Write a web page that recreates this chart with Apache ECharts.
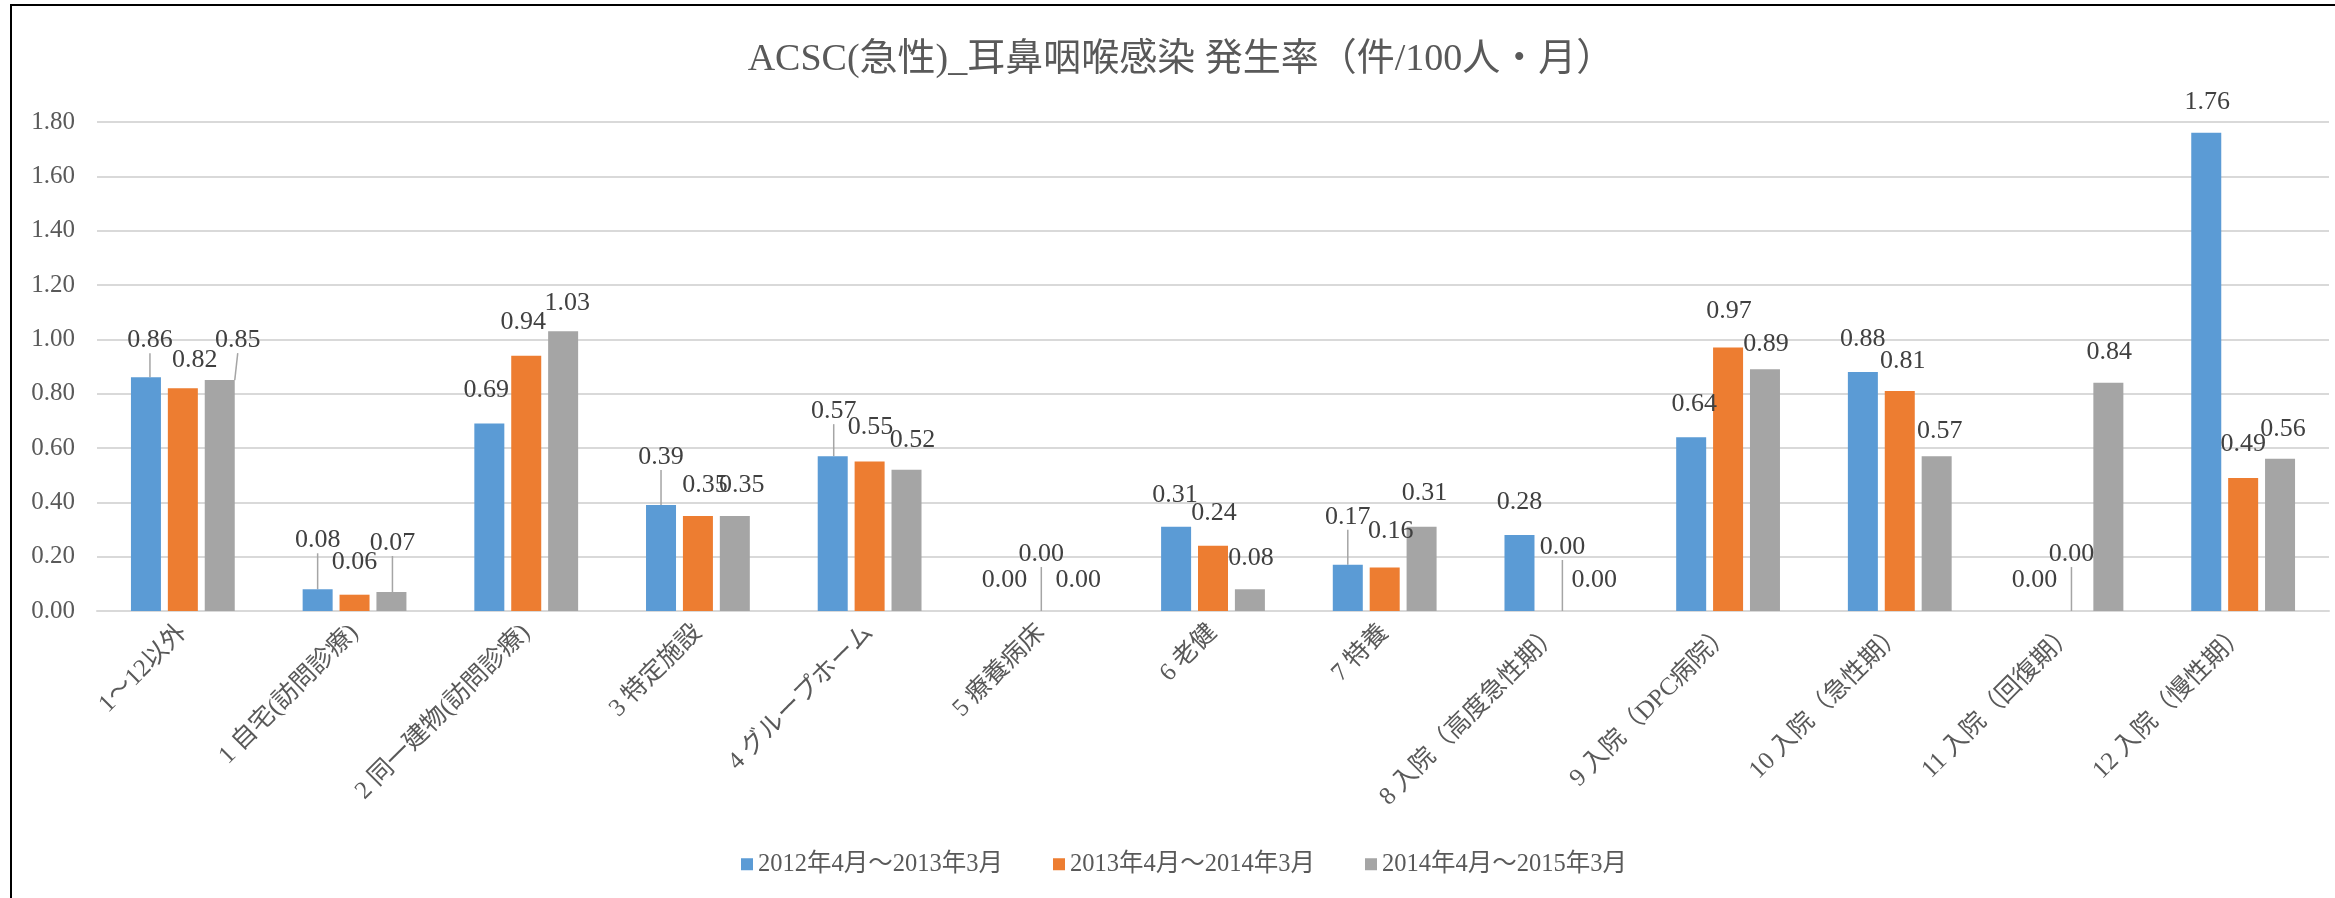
<!DOCTYPE html>
<html>
<head>
<meta charset="utf-8">
<script src="https://cdn.jsdelivr.net/npm/echarts@6/dist/echarts.min.js"></script>
<style>
html,body{margin:0;padding:0;background:#fff;}
#c{width:2335px;height:898px;}
</style>
</head>
<body>
<div id="c"></div>
<script>
const titleText = 'ACSC(急性)_耳鼻咽喉感染 発生率（件/100人・月）';
const categories = ['1～12以外','1 自宅(訪問診療)','2 同一建物(訪問診療)','3 特定施設','4 グループホーム','5 療養病床','6 老健','7 特養','8 入院（高度急性期）','9 入院（DPC病院）','10 入院（急性期）','11 入院（回復期）','12 入院（慢性期）'];
const seriesNames = ['2012年4月～2013年3月','2013年4月～2014年3月','2014年4月～2015年3月'];
const values2012 = [0.86,0.08,0.69,0.39,0.57,0.00,0.31,0.17,0.28,0.64,0.88,0.00,1.76];
const values2013 = [0.82,0.06,0.94,0.35,0.55,0.00,0.24,0.16,0.00,0.97,0.81,0.00,0.49];
const values2014 = [0.85,0.07,1.03,0.35,0.52,0.00,0.08,0.31,0.00,0.89,0.57,0.84,0.56];
const yTicks = [0,0.2,0.4,0.6,0.8,1.0,1.2,1.4,1.6,1.8];

// label placement nudges (px) imitating the spreadsheet's collision avoidance
const labelNudge = [
  [[4,-16],[0,-28],[-3,-12],[0,-27],[1,-24],[0,-10],[-1,-11],[0,-27],[0,-12],[3,-12],[0,-12],[0,-10],[1,-10]],
  [[12,-7],[0,-12],[-3,-12],[7,-10],[1,-13],[0,-36],[1,-12],[6,-15],[6,-43],[1,-15],[3,-9],[0,-36],[0,-13]],
  [[18,-19],[1,-28],[4,-7],[7,-10],[6,-9],[0,-10],[1,-10],[3,-13],[1,-10],[1,-4],[3,-4],[1,-10],[3,-9]]
];
const leaderLines = [
  [0,1,3,4,7],
  [5,8,11],
  [0,1]
];

const colors = ['#5B9BD5','#ED7D31','#A5A5A5'];
const serif = '"Liberation Serif","Noto Sans CJK JP",serif';
const allValues = [values2012, values2013, values2014];

const chart = echarts.init(document.getElementById('c'), null, {renderer:'canvas'});
const option = {
  animation:false,
  backgroundColor:'#fff',
  color: colors,
  title:{
    text:titleText, left:1176, top:36, textAlign:'center',
    textStyle:{fontFamily:serif, fontSize:38, fontWeight:'normal', color:'#595959'}
  },
  legend:{
    data:seriesNames, left:736, top:847, itemWidth:12, itemHeight:12, itemGap:50,
    icon:'rect',
    textStyle:{fontFamily:serif, fontSize:24.5, color:'#595959'}
  },
  grid:{left:97, right:6, top:122, bottom:287, containLabel:false},
  xAxis:{
    type:'category', data:categories,
    axisLine:{lineStyle:{color:'#D9D9D9', width:2}},
    axisTick:{show:false},
    axisLabel:{rotate:45, fontFamily:serif, fontSize:25, color:'#595959', margin:18, interval:0}
  },
  yAxis:{
    type:'value', min:yTicks[0], max:yTicks[yTicks.length-1], interval:0.2,
    axisLine:{show:false}, axisTick:{show:false},
    splitLine:{lineStyle:{color:'#D9D9D9', width:2}},
    axisLabel:{fontFamily:serif, fontSize:25, color:'#595959', margin:22, formatter:v=>v.toFixed(2)}
  },
  series: seriesNames.map((n,i)=>({
    name:n, type:'bar', barWidth:30, barGap:'23%',
    data: allValues[i].map((v,j)=>({
      value:v,
      labelLine:{show: leaderLines[i].indexOf(j) >= 0}
    })),
    label:{show:true, position:'top', distance:8, fontFamily:serif, fontSize:26, color:'#404040', formatter:p=>p.value.toFixed(2)},
    labelLayout:function(p){
      const d = labelNudge[p.seriesIndex][p.dataIndex];
      return {dx:d[0], dy:d[1]};
    },
    labelLine:{show:false, lineStyle:{color:'#A5A5A5', width:1.5}}
  })),
  graphic:[{type:'rect', shape:{x:11, y:5, width:2400, height:1000}, style:{fill:'none', stroke:'#000', lineWidth:2}, silent:true, z:100}]
};
chart.setOption(option);
</script>
</body>
</html>
